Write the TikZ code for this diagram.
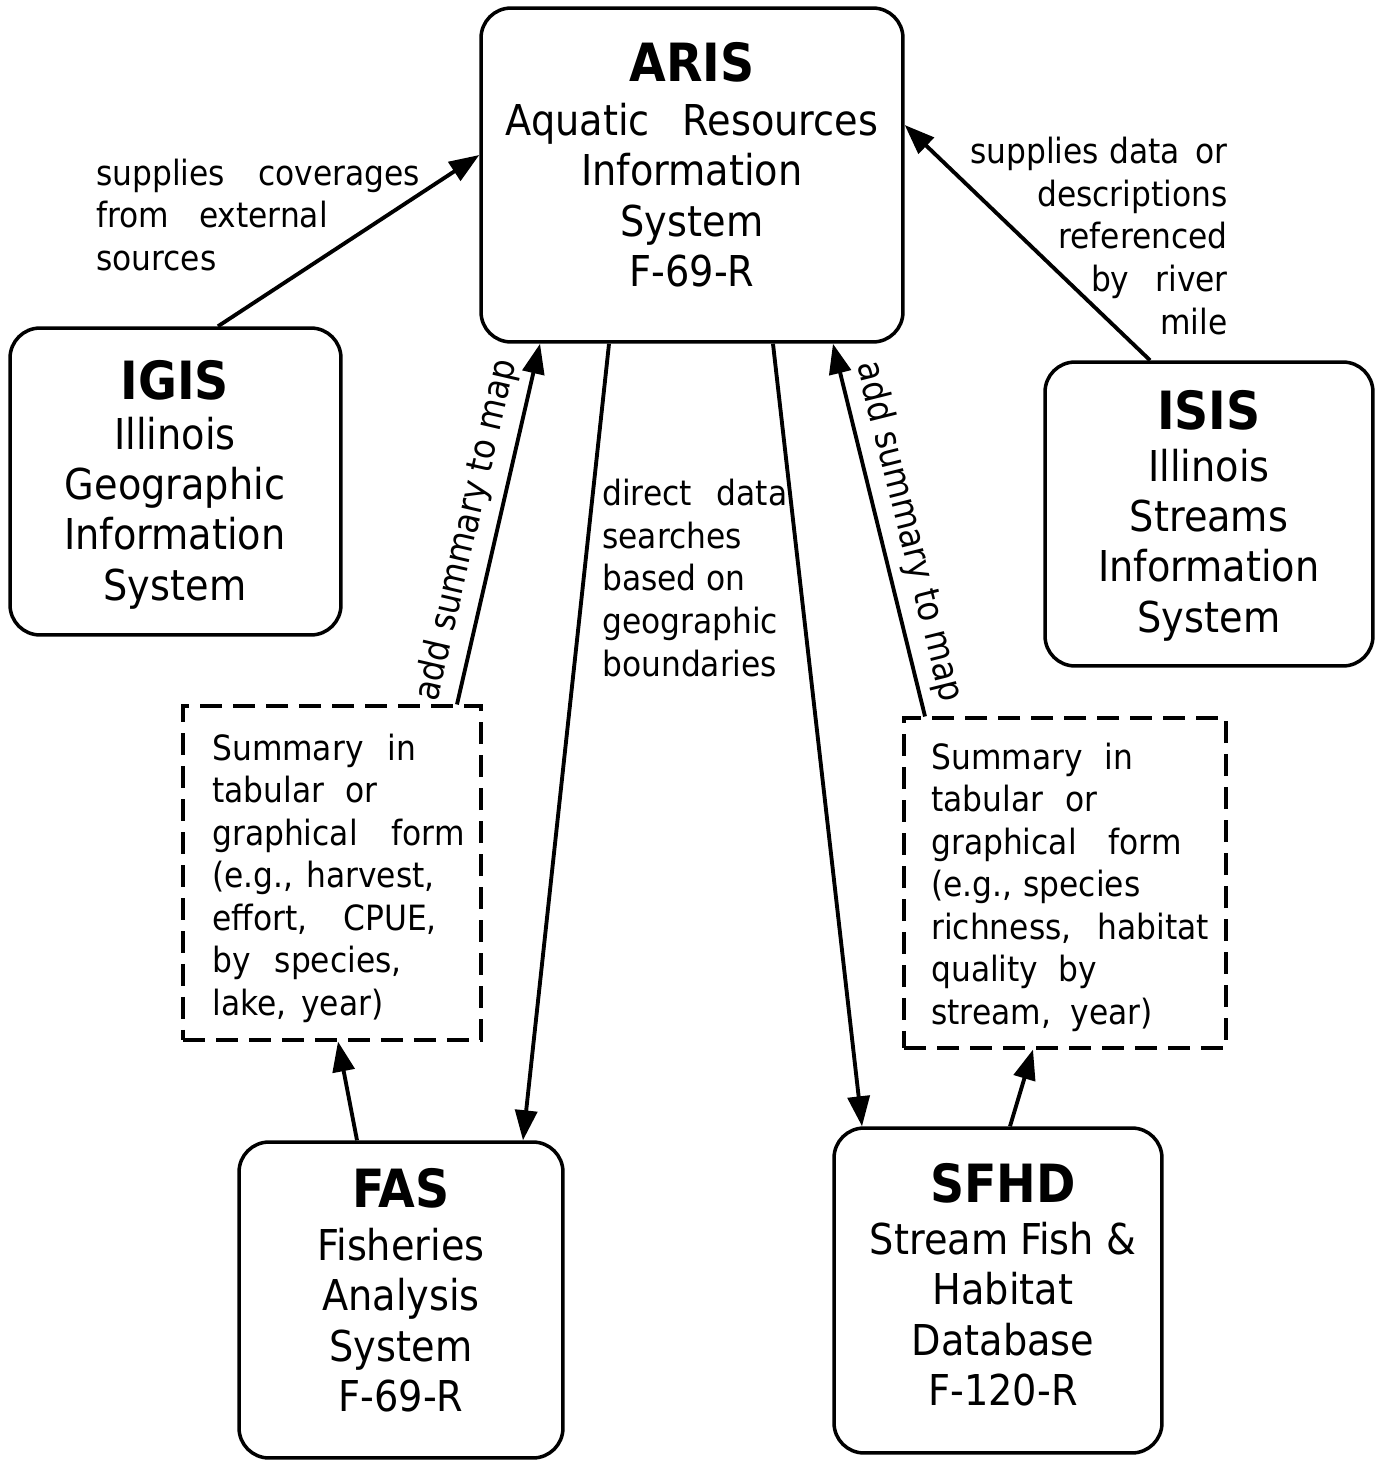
\documentclass[tikz,border=0pt]{standalone}
\usepackage{fontspec}
\setmainfont{DejaVu Sans Condensed}
\usetikzlibrary{arrows.meta}
\newlength\pxu
\setlength\pxu{0.02cm}
\newcommand\wgap[1]{\hspace{#1\pxu}}
\begin{document}
\begin{tikzpicture}[x=0.02cm,y=-0.02cm,
  sysbox/.style={draw,line width=2pt,rounded corners=0.6cm,inner sep=0pt},
  sumbox/.style={draw,line width=1.8pt,dash pattern=on 0.44cm off 0.22cm,inner sep=0pt},
  ttl/.style={font=\fontsize{30}{34}\selectfont\bfseries,inner sep=0pt},
  boxtext/.style={align=center,font=\fontsize{24.2}{28.7}\selectfont,inner sep=0pt},
  lbl/.style={font=\fontsize{19.8}{24.2}\selectfont,inner sep=0pt},
  rlbl/.style={font=\fontsize{20.5}{24}\selectfont,inner sep=0pt},
  conn/.style={line width=2.2pt,-{Triangle[length=0.6cm,width=0.44cm]}}
]
\useasboundingbox (0,0) rectangle (1380,1461);
\fill[white] (0,0) rectangle (1380,1461);

% boxes
\node[sysbox,minimum width=8.44cm,minimum height=6.68cm] (aris) at (692,175) {};
\node[sysbox,minimum width=6.62cm,minimum height=6.14cm] (igis) at (175.5,481.5) {};
\node[sysbox,minimum width=6.56cm,minimum height=6.08cm] (isis) at (1209,514) {};
\node[sysbox,minimum width=6.48cm,minimum height=6.32cm] (fas) at (401,1300) {};
\node[sysbox,minimum width=6.56cm,minimum height=6.5cm] (sfhd) at (998,1290.5) {};
\node[sumbox,minimum width=5.96cm,minimum height=6.68cm] (sum1) at (332,873) {};
\node[sumbox,minimum width=6.44cm,minimum height=6.6cm] (sum2) at (1065,883) {};

% box texts
\node[ttl] (aris-t) at (692,62) {ARIS};
\node[boxtext] (aris-b) at (692,195) {Aquatic\wgap{33}Resources\\Information\\System\\F-69-R};
\node[ttl] (igis-t) at (175,380) {IGIS};
\node[boxtext] (igis-b) at (175,513) {Illinois\\Geographic\\Information\\System};
\node[ttl] (isis-t) at (1209,410) {ISIS};
\node[boxtext] (isis-b) at (1209,545) {Illinois\\Streams\\Information\\System};
\node[ttl] (fas-t) at (401,1188) {FAS};
\node[boxtext] (fas-b) at (401,1320) {Fisheries\\Analysis\\System\\F-69-R};
\node[ttl] (sfhd-t) at (1003,1183) {SFHD};
\node[boxtext] (sfhd-b) at (1003,1314) {Stream Fish \&\\Habitat\\Database\\F-120-R};

\node[lbl,align=left,anchor=west] (sum1-t) at (212,878)
  {Summary\wgap{24}in\\tabular\wgap{21}or\\graphical\wgap{34}form\\(e.g.,\wgap{13}harvest,\\effort,\wgap{36}CPUE,\\by\wgap{24}species,\\lake,\wgap{15}year)};
\node[lbl,align=left,anchor=west] (sum2-t) at (931,887)
  {Summary\wgap{22}in\\tabular\wgap{22}or\\graphical\wgap{32}form\\(e.g.,\wgap{11}species\\richness,\wgap{26}habitat\\quality\wgap{20}by\\stream,\wgap{20}year)};

% connectors
\draw[conn] ([xshift=0.85cm]igis.north) -- ([yshift=0.4cm]aris.west);
\draw[conn] ([xshift=-1.18cm]isis.north) -- ([yshift=1.0cm]aris.east);
\draw[conn] ([xshift=2.5cm]sum1.north) -- ([xshift=-3.04cm]aris.south);
\draw[conn] ([xshift=-1.66cm]aris.south) -- ([xshift=2.44cm]fas.north);
\draw[conn] ([xshift=1.62cm]aris.south) -- ([xshift=-2.72cm]sfhd.north);
\draw[conn] ([xshift=-2.8cm]sum2.north) -- ([xshift=2.82cm]aris.south);
\draw[conn] ([xshift=-0.88cm]fas.north) -- ([xshift=0.12cm]sum1.south);
\draw[conn] ([xshift=0.24cm]sfhd.north) -- ([xshift=-0.64cm]sum2.south);

% labels
\node[lbl,align=left,anchor=west] (l-igis) at (96,215)
  {supplies\wgap{33}coverages\\from\wgap{30}external\\sources};
\node[lbl,align=right,anchor=east] (l-isis) at (1228,236)
  {supplies data\wgap{16}or\\descriptions\\referenced\\by\wgap{26}river\\mile};
\node[lbl,align=left,anchor=west] (l-direct) at (602,578)
  {direct\wgap{25}data\\searches\\based on\\geographic\\boundaries};
\node[rlbl,rotate=77] (l-add1) at (467,530) {add summary to map};
\node[rlbl,rotate=-76] (l-add2) at (909,532) {add summary to map};
\end{tikzpicture}
\end{document}
